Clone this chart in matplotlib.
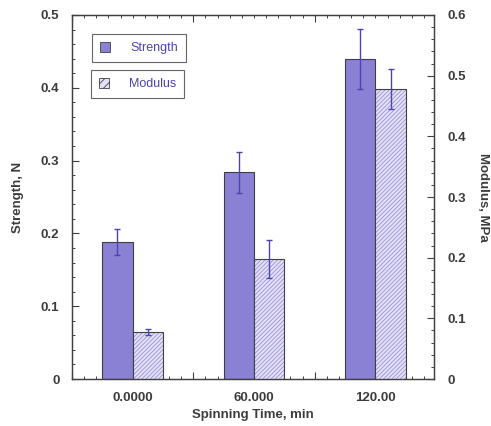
import matplotlib
matplotlib.use('Agg')
import numpy as np
import matplotlib.pyplot as plt
from matplotlib.ticker import MultipleLocator, FixedLocator, FuncFormatter
from matplotlib.patches import Patch

# data
times = [0, 60, 120]
time_labels = ['0.0000', '60.000', '120.00']
strength = [0.188, 0.284, 0.440]
strength_err = [0.018, 0.028, 0.041]
modulus = [0.0775, 0.198, 0.478]
modulus_err = [0.005, 0.031, 0.033]

plt.rcParams['font.family'] = ['Liberation Sans', 'DejaVu Sans']
plt.rcParams['font.weight'] = 'bold'
plt.rcParams['hatch.linewidth'] = 0.6

text_col = '#3c3c3c'
bar_col = '#8a80d4'
hatch_face = '#e4e1f6'
err_col = '#4c44b0'
edge_col = '#404040'

fig = plt.figure(figsize=(4.91, 4.26), dpi=100)
ax = fig.add_axes([0.1466, 0.1103, 0.7374, 0.8545])
ax2 = ax.twinx()

w = 15
x = np.array(times, dtype=float)
ax.bar(x - w / 2, strength, width=w, color=bar_col, edgecolor=edge_col,
       linewidth=0.8, zorder=2)
ax.errorbar(x - w / 2, strength, yerr=strength_err, fmt='none',
            ecolor=err_col, elinewidth=1, capsize=2.5, capthick=1, zorder=3)
ax2.bar(x + w / 2, modulus, width=w, color=hatch_face, edgecolor='#9890d8',
        hatch='////////', linewidth=0, zorder=2)
ax2.bar(x + w / 2, modulus, width=w, color='none', edgecolor=edge_col,
        linewidth=0.8, zorder=2)
ax2.errorbar(x + w / 2, modulus, yerr=modulus_err, fmt='none',
             ecolor=err_col, elinewidth=1, capsize=2.5, capthick=1, zorder=3)

ax.set_xlim(-30, 149)
ax.set_ylim(0, 0.5)
ax2.set_ylim(0, 0.6)

# x ticks: long ticks at 30, 90; small ones every 6; labels under the groups
ax.xaxis.set_major_locator(FixedLocator([-30, 30, 90, 150]))
ax.xaxis.set_major_formatter(FuncFormatter(lambda v, p: ''))
ax.xaxis.set_minor_locator(MultipleLocator(6))
lab = dict(zip(times, time_labels))
ax.xaxis.set_minor_formatter(FuncFormatter(lambda v, p: lab.get(int(round(v)), '') if abs(v - round(v)) < 1e-6 else ''))

ax.yaxis.set_major_locator(MultipleLocator(0.1))
ax.yaxis.set_minor_locator(MultipleLocator(0.02))
ax2.yaxis.set_major_locator(MultipleLocator(0.1))
ax2.yaxis.set_minor_locator(MultipleLocator(0.02))
ax.yaxis.set_major_formatter(FuncFormatter(lambda v, p: '0' if v == 0 else '%.1f' % v))
ax2.yaxis.set_major_formatter(FuncFormatter(lambda v, p: '0' if v == 0 else '%.1f' % v))

ax.tick_params(axis='both', which='major', direction='in', length=5, width=0.8,
               colors=edge_col, labelcolor=text_col, labelsize=9.5, top=True)
ax.tick_params(axis='both', which='minor', direction='in', length=2.5, width=0.7,
               colors=edge_col, labelcolor=text_col, labelsize=9.5, top=True)
ax.tick_params(axis='y', which='major', pad=9)
ax.tick_params(axis='x', which='minor', pad=9)
ax2.tick_params(axis='y', which='major', direction='in', length=5, width=0.8,
                colors=edge_col, labelcolor=text_col, labelsize=9.5, pad=10)
ax2.tick_params(axis='y', which='minor', direction='in', length=2.5, width=0.7,
                colors=edge_col)

for a in (ax, ax2):
    for s in a.spines.values():
        s.set_color(edge_col)
        s.set_linewidth(0.9)

ax.set_ylabel('Strength, N', fontsize=9.5, color=text_col, fontweight='bold', labelpad=12)
ax2.set_ylabel('Modulus, MPa', fontsize=9.5, color=text_col, fontweight='bold',
               rotation=-90, labelpad=16)
ax.set_xlabel('Spinning Time, min', fontsize=9.5, color=text_col, fontweight='bold', labelpad=4)

# two separate legend boxes
leg_kw = dict(loc='upper left', frameon=True, fancybox=False, fontsize=9,
              handlelength=0.8, handleheight=0.8, borderpad=0.65,
              handletextpad=1.6, borderaxespad=0)
leg1 = ax2.legend(handles=[Patch(facecolor=bar_col, edgecolor=edge_col, linewidth=0.6)],
                  labels=['Strength'], bbox_to_anchor=(0.055, 0.948), **leg_kw)
ax2.add_artist(leg1)
leg2 = ax2.legend(handles=[Patch(facecolor=hatch_face, edgecolor=edge_col, hatch='////', linewidth=0.6)],
                  labels=['Modulus'], bbox_to_anchor=(0.052, 0.849), **leg_kw)
for lg in (leg1, leg2):
    lg.get_frame().set_edgecolor(edge_col)
    lg.get_frame().set_linewidth(0.8)
    lg.get_texts()[0].set_color('#4a44b4')
    lg.get_texts()[0].set_fontweight('normal')

fig.savefig('out.png', dpi=100)
